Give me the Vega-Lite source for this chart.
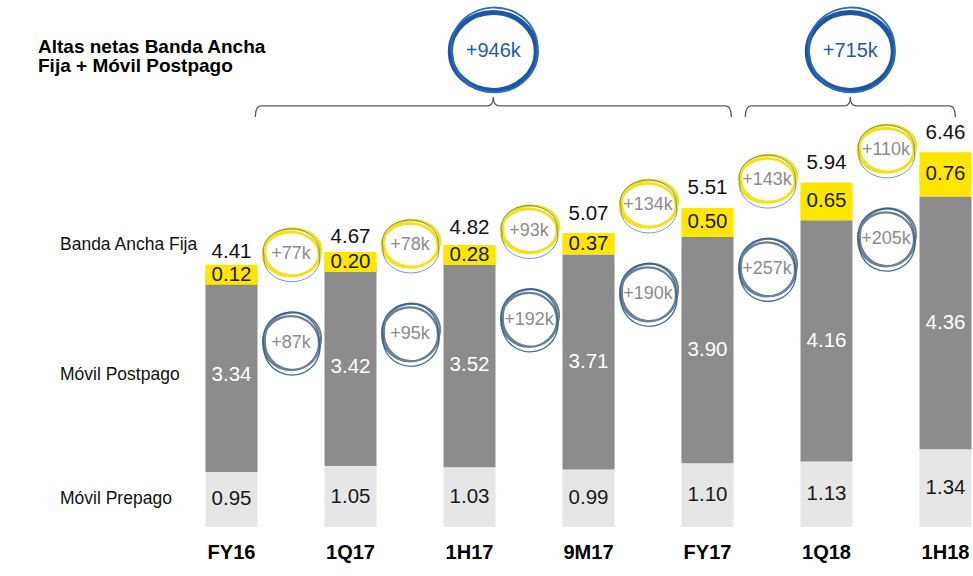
{
  "$schema": "https://vega.github.io/schema/vega-lite/v6.json",
  "width": 973,
  "height": 576,
  "autosize": {"type": "none"},
  "padding": 0,
  "background": "white",
  "config": {"view": {"stroke": null}, "font": "Liberation Sans"},
  "title": {
    "text": ["Altas netas Banda Ancha", "Fija + Móvil Postpago"],
    "anchor": "start",
    "frame": "group",
    "orient": "top",
    "baseline": "alphabetic",
    "offset": -91,
    "dx": 38,
    "font": "Liberation Sans",
    "fontSize": 19,
    "fontWeight": "bold",
    "color": "#000000",
    "lineHeight": 19
  },
  "datasets": {
    "bars": [
      {"period": "FY16", "series": "Móvil Prepago", "value": 0.95},
      {"period": "FY16", "series": "Móvil Postpago", "value": 3.34},
      {"period": "FY16", "series": "Banda Ancha Fija", "value": 0.12},
      {"period": "1Q17", "series": "Móvil Prepago", "value": 1.05},
      {"period": "1Q17", "series": "Móvil Postpago", "value": 3.42},
      {"period": "1Q17", "series": "Banda Ancha Fija", "value": 0.20},
      {"period": "1H17", "series": "Móvil Prepago", "value": 1.03},
      {"period": "1H17", "series": "Móvil Postpago", "value": 3.52},
      {"period": "1H17", "series": "Banda Ancha Fija", "value": 0.28},
      {"period": "9M17", "series": "Móvil Prepago", "value": 0.99},
      {"period": "9M17", "series": "Móvil Postpago", "value": 3.71},
      {"period": "9M17", "series": "Banda Ancha Fija", "value": 0.37},
      {"period": "FY17", "series": "Móvil Prepago", "value": 1.10},
      {"period": "FY17", "series": "Móvil Postpago", "value": 3.90},
      {"period": "FY17", "series": "Banda Ancha Fija", "value": 0.50},
      {"period": "1Q18", "series": "Móvil Prepago", "value": 1.13},
      {"period": "1Q18", "series": "Móvil Postpago", "value": 4.16},
      {"period": "1Q18", "series": "Banda Ancha Fija", "value": 0.65},
      {"period": "1H18", "series": "Móvil Prepago", "value": 1.34},
      {"period": "1H18", "series": "Móvil Postpago", "value": 4.36},
      {"period": "1H18", "series": "Banda Ancha Fija", "value": 0.76}
    ],
    "totals": [
      {"period": "FY16", "total": 4.41},
      {"period": "1Q17", "total": 4.67},
      {"period": "1H17", "total": 4.82},
      {"period": "9M17", "total": 5.07},
      {"period": "FY17", "total": 5.51},
      {"period": "1Q18", "total": 5.94},
      {"period": "1H18", "total": 6.46}
    ],
    "deltas": [
      {"step": "FY16→1Q17", "to": "1Q17", "series": "Banda Ancha Fija", "label": "+77k"},
      {"step": "FY16→1Q17", "to": "1Q17", "series": "Móvil Postpago", "label": "+87k"},
      {"step": "1Q17→1H17", "to": "1H17", "series": "Banda Ancha Fija", "label": "+78k"},
      {"step": "1Q17→1H17", "to": "1H17", "series": "Móvil Postpago", "label": "+95k"},
      {"step": "1H17→9M17", "to": "9M17", "series": "Banda Ancha Fija", "label": "+93k"},
      {"step": "1H17→9M17", "to": "9M17", "series": "Móvil Postpago", "label": "+192k"},
      {"step": "9M17→FY17", "to": "FY17", "series": "Banda Ancha Fija", "label": "+134k"},
      {"step": "9M17→FY17", "to": "FY17", "series": "Móvil Postpago", "label": "+190k"},
      {"step": "FY17→1Q18", "to": "1Q18", "series": "Banda Ancha Fija", "label": "+143k"},
      {"step": "FY17→1Q18", "to": "1Q18", "series": "Móvil Postpago", "label": "+257k"},
      {"step": "1Q18→1H18", "to": "1H18", "series": "Banda Ancha Fija", "label": "+110k"},
      {"step": "1Q18→1H18", "to": "1H18", "series": "Móvil Postpago", "label": "+205k"}
    ],
    "spans": [
      {"mid": "1H17", "label": "+946k"},
      {"mid": "1Q18", "label": "+715k"}
    ]
  },
  "layer": [
    {
      "data": {"name": "bars"},
      "mark": {"type": "bar", "width": {"band": 0.874}},
      "encoding": {
        "x": {
          "field": "period", "type": "nominal",
          "scale": {
            "type": "band",
            "domain": ["FY16", "FY16→1Q17", "1Q17", "1Q17→1H17", "1H17", "1H17→9M17", "9M17", "9M17→FY17", "FY17", "FY17→1Q18", "1Q18", "1Q18→1H18", "1H18"],
            "range": [201.75, 975.25],
            "paddingInner": 0,
            "paddingOuter": 0
          },
          "axis": {
            "orient": "bottom", "offset": -36, "domain": false, "ticks": false, "grid": false,
            "labelPadding": 18, "labelBaseline": "alphabetic", "labelAngle": 0,
            "labelFont": "Liberation Sans", "labelFontSize": 20, "labelFontWeight": "bold",
            "labelColor": "#000000", "labelOverlap": false, "title": null,
            "labelExpr": "indexof(datum.label, '→') >= 0 ? '' : datum.label"
          }
        },
        "y": {
          "field": "value", "type": "quantitative", "stack": "zero",
          "scale": {"domain": [0, 9.086], "range": [527, 0], "nice": false, "zero": true},
          "axis": null
        },
        "color": {
          "field": "series", "type": "nominal",
          "scale": {"domain": ["Móvil Prepago", "Móvil Postpago", "Banda Ancha Fija"], "range": ["#E6E6E6", "#8C8C8C", "#FFE600"]},
          "legend": null
        },
        "order": {"field": "series", "sort": "descending"}
      }
    },
    {
      "data": {"name": "bars"},
      "transform": [
        {"stack": "value", "groupby": ["period"], "sort": [{"field": "series", "order": "descending"}], "as": ["v0", "v1"]},
        {"calculate": "(datum.v0 + datum.v1) / 2", "as": "mid"},
        {"filter": "datum.series == 'Banda Ancha Fija'"}
      ],
      "mark": {"type": "tick", "size": 52, "thickness": 20, "color": "#FFE600", "opacity": 1},
      "encoding": {
        "x": {"field": "period", "type": "nominal"},
        "y": {"field": "mid", "type": "quantitative"}
      }
    },
    {
      "data": {"name": "bars"},
      "transform": [
        {"stack": "value", "groupby": ["period"], "sort": [{"field": "series", "order": "descending"}], "as": ["v0", "v1"]},
        {"calculate": "(datum.v0 + datum.v1) / 2", "as": "mid"}
      ],
      "mark": {"type": "text", "fontSize": 20.5, "baseline": "middle", "align": "center", "font": "Liberation Sans"},
      "encoding": {
        "x": {"field": "period", "type": "nominal"},
        "y": {"field": "mid", "type": "quantitative"},
        "text": {"field": "value", "type": "quantitative", "format": ".2f"},
        "color": {"condition": {"test": "datum.series == 'Móvil Postpago'", "value": "#FFFFFF"}, "value": "#1A1A1A"}
      }
    },
    {
      "data": {"name": "totals"},
      "mark": {"type": "text", "fontSize": 20.5, "baseline": "alphabetic", "align": "center", "dy": -13, "color": "#111111", "font": "Liberation Sans"},
      "encoding": {
        "x": {"field": "period", "type": "nominal"},
        "y": {"field": "total", "type": "quantitative"},
        "text": {"field": "total", "type": "quantitative", "format": ".2f"}
      }
    },
    {
      "data": {"name": "bars"},
      "transform": [
        {"stack": "value", "groupby": ["period"], "sort": [{"field": "series", "order": "descending"}], "as": ["v0", "v1"]},
        {"calculate": "(datum.v0 + datum.v1) / 2", "as": "mid"},
        {"filter": "datum.period == 'FY16' && datum.series != 'Banda Ancha Fija'"}
      ],
      "mark": {"type": "text", "fontSize": 17.5, "baseline": "middle", "align": "left", "dx": -171.5, "color": "#111111", "font": "Liberation Sans"},
      "encoding": {
        "x": {"field": "period", "type": "nominal"},
        "y": {"field": "mid", "type": "quantitative"},
        "text": {"field": "series", "type": "nominal"}
      }
    },
    {
      "data": {"name": "bars"},
      "transform": [
        {"stack": "value", "groupby": ["period"], "sort": [{"field": "series", "order": "descending"}], "as": ["v0", "v1"]},
        {"calculate": "(datum.v0 + datum.v1) / 2", "as": "mid"},
        {"filter": "datum.period == 'FY16' && datum.series == 'Banda Ancha Fija'"}
      ],
      "mark": {"type": "text", "fontSize": 17.5, "baseline": "middle", "align": "left", "dx": -171.5, "dy": -30, "color": "#111111", "font": "Liberation Sans"},
      "encoding": {
        "x": {"field": "period", "type": "nominal"},
        "y": {"field": "mid", "type": "quantitative"},
        "text": {"field": "series", "type": "nominal"}
      }
    },
    {
      "data": {"name": "deltas"},
      "transform": [
        {"filter": "datum.series == 'Banda Ancha Fija'"},
        {"lookup": "to", "from": {"data": {"name": "totals"}, "key": "period", "fields": ["total"]}}
      ],
      "layer": [
        {
          "mark": {"type": "point", "filled": false, "opacity": 1, "size": 4, "stroke": "#F2E21C", "strokeWidth": 2.8, "yOffset": -2,
            "shape": "M-28,0A28,22 0 1,1 28,0A28,22 0 1,1 -28,0M-26,-3A28,21 0 1,1 29,1A27,22 0 1,1 -26,-3"}
        },
        {
          "mark": {"type": "point", "filled": false, "opacity": 0.85, "size": 4, "stroke": "#3A6A9A", "strokeWidth": 0.8, "yOffset": -2,
            "shape": "M-27,2A28,22 0 1,1 28,-1A28,23 0 1,1 -27,2"}
        },
        {
          "mark": {"type": "text", "fontSize": 18, "baseline": "middle", "align": "center", "dy": -2, "color": "#8C8C8C", "font": "Liberation Sans"},
          "encoding": {"text": {"field": "label", "type": "nominal"}}
        }
      ],
      "encoding": {
        "x": {"field": "step", "type": "nominal"},
        "y": {"field": "total", "type": "quantitative"}
      }
    },
    {
      "data": {"name": "deltas"},
      "transform": [
        {"filter": "datum.series == 'Móvil Postpago'"},
        {"lookup": "to", "from": {"data": {"name": "totals"}, "key": "period", "fields": ["total"]}}
      ],
      "layer": [
        {
          "mark": {"type": "point", "filled": false, "opacity": 1, "size": 4, "stroke": "#6E7F90", "strokeWidth": 2.2, "yOffset": 87,
            "shape": "M-28,0A28,27 0 1,1 28,0A28,27 0 1,1 -28,0M-26,-4A28,26 0 1,1 29,2A27,27 0 1,1 -26,-4"}
        },
        {
          "mark": {"type": "point", "filled": false, "opacity": 0.9, "size": 4, "stroke": "#2D5E96", "strokeWidth": 1.3, "yOffset": 87,
            "shape": "M-27,3A28,27 0 1,1 28,-2A28,27 0 1,1 -27,3"}
        },
        {
          "mark": {"type": "text", "fontSize": 18, "baseline": "middle", "align": "center", "dy": 87, "color": "#8C8C8C", "font": "Liberation Sans"},
          "encoding": {"text": {"field": "label", "type": "nominal"}}
        }
      ],
      "encoding": {
        "x": {"field": "step", "type": "nominal"},
        "y": {"field": "total", "type": "quantitative"}
      }
    },
    {
      "data": {"name": "spans"},
      "layer": [
        {
          "mark": {"type": "point", "filled": false, "opacity": 1, "size": 4, "stroke": "#595959", "strokeWidth": 1.3},
          "encoding": {
            "y": {"datum": 7.26, "type": "quantitative"},
            "shape": {
              "field": "label", "type": "nominal",
              "scale": {
                "domain": ["+946k", "+715k"],
                "range": [
                  "M-238,11Q-238,0 -232,0L-6,0Q0,0 0,-9Q0,0 6,0L232,0Q238,0 238,11",
                  "M-105,11Q-105,0 -99,0L-6,0Q0,0 0,-9Q0,0 6,0L99,0Q105,0 105,11"
                ]
              },
              "legend": null
            }
          }
        },
        {
          "mark": {"type": "point", "filled": false, "opacity": 1, "size": 4, "stroke": "#1B57A4", "strokeWidth": 5,
            "shape": "M-43,0A43,39 0 1,1 43,0A43,39 0 1,1 -43,0"},
          "encoding": {"y": {"datum": 8.2, "type": "quantitative"}}
        },
        {
          "mark": {"type": "point", "filled": false, "opacity": 1, "size": 4, "stroke": "#2E6DB8", "strokeWidth": 1.8,
            "shape": "M-41,3A43,39 0 1,1 44,-2A42,40 0 1,1 -41,3"},
          "encoding": {"y": {"datum": 8.2, "type": "quantitative"}}
        },
        {
          "mark": {"type": "text", "fontSize": 20, "baseline": "middle", "align": "center", "color": "#1F5CA8", "font": "Liberation Sans"},
          "encoding": {
            "y": {"datum": 8.2, "type": "quantitative"},
            "text": {"field": "label", "type": "nominal"}
          }
        }
      ],
      "encoding": {
        "x": {"field": "mid", "type": "nominal", "bandPosition": 0.9}
      }
    }
  ]
}
